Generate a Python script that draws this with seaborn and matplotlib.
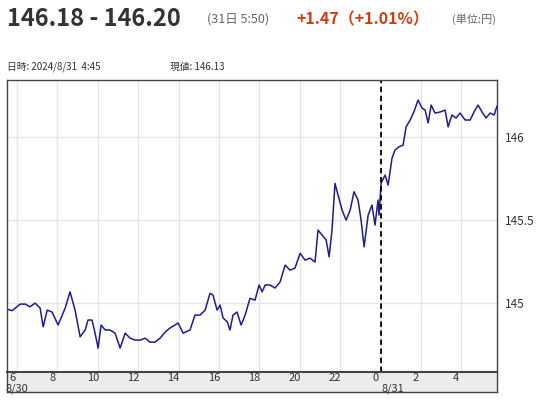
import matplotlib
matplotlib.use("Agg")
import matplotlib.pyplot as plt
import seaborn as sns
import pandas as pd

hours = [5.50,5.75,6.15,6.40,6.64,6.89,7.14,7.29,7.49,7.73,8.03,8.38,8.62,8.87,9.12,9.37,9.51,9.71,9.86,10.01,
10.16,10.36,10.60,10.85,11.10,11.35,11.59,11.84,12.09,12.34,12.58,12.83,13.08,13.33,13.57,13.82,13.97,14.22,14.56,14.81,
15.06,15.31,15.55,15.70,15.90,16.05,16.20,16.40,16.54,16.69,16.89,17.09,17.29,17.53,17.78,17.98,18.13,18.28,18.52,18.77,
19.02,19.27,19.51,19.76,20.01,20.26,20.50,20.75,20.90,21.10,21.30,21.45,21.59,21.74,21.89,22.09,22.29,22.49,22.68,22.88,
23.03,23.18,23.38,23.57,23.72,23.87,23.92,24.02,24.22,24.37,24.56,24.71,24.91,25.11,25.26,25.46,25.65,25.85,26.05,26.20,
26.35,26.50,26.69,26.94,27.19,27.34,27.53,27.73,27.93,28.18,28.43,28.62,28.82,29.02,29.22,29.42,29.62,29.76]
prices = [144.962,144.952,144.992,144.992,144.976,144.998,144.968,144.855,144.956,144.944,144.866,144.968,145.066,144.956,144.795,144.836,144.896,144.896,144.817,144.727,
144.866,144.836,144.836,144.817,144.727,144.817,144.787,144.775,144.775,144.787,144.763,144.763,144.787,144.824,144.848,144.866,144.878,144.817,144.836,144.926,
144.926,144.956,145.057,145.046,144.956,144.986,144.908,144.886,144.836,144.926,144.944,144.866,144.926,145.027,145.016,145.107,145.066,145.107,145.107,145.089,
145.125,145.227,145.197,145.209,145.298,145.257,145.269,145.245,145.438,145.408,145.378,145.277,145.438,145.719,145.649,145.558,145.498,145.558,145.669,145.619,
145.498,145.337,145.528,145.589,145.468,145.619,145.528,145.721,145.769,145.709,145.870,145.920,145.940,145.950,146.060,146.101,146.151,146.221,146.173,146.161,
146.083,146.191,146.143,146.149,146.161,146.060,146.131,146.113,146.143,146.101,146.101,146.149,146.191,146.149,146.113,146.143,146.131,146.185]
xticks = [6,8,10,12,14,16,18,20,22,24,26,28]
xlabels = ["6","8","10","12","14","16","18","20","22","0","2","4"]
yticks = [145, 145.5, 146]
ylabels = ["145", "145.5", "146"]

sns.set_theme(style="white")
plt.rcParams['font.family'] = ['Noto Sans CJK JP', 'DejaVu Sans']

fig = plt.figure(figsize=(5.37, 4.0), dpi=100)
ax = fig.add_axes([7/537, 28/400, 490/537, 292/400])
df = pd.DataFrame({"h": hours, "p": prices})
sns.lineplot(data=df, x="h", y="p", ax=ax, color="#1c1c96", linewidth=1.1)
ax.set_xlim(5.5, 29.76)
ax.set_ylim(144.583, 146.342)
ax.set_xticks(xticks)
ax.set_yticks(yticks)
ax.grid(True, color="#e6e6e6", linewidth=1)
ax.set_xticklabels([])
ax.set_xlabel(""); ax.set_ylabel("")
ax.yaxis.tick_right()
ax.set_yticklabels(ylabels, fontsize=8.5, color="#333333")
ax.tick_params(length=0, pad=6)
ax.axvline(24, color="black", linestyle=(0, (3, 2)), linewidth=1.3)
for s in ax.spines.values():
    s.set_color("#444444"); s.set_linewidth(1)

band = fig.add_axes([7/537, 8/400, 490/537, 20/400], facecolor="#ececec")
band.set_xlim(5.5, 29.76)
band.set_ylim(0, 1)
band.set_yticks([])
band.set_xticks(xticks)
band.set_xticklabels([])
band.tick_params(length=0)
for s in band.spines.values():
    s.set_color("#444444"); s.set_linewidth(1)
band.spines['top'].set_linewidth(1.5)
for t, l in zip(xticks, xlabels):
    band.text(t - 0.25, 0.72, l, ha="center", va="center", fontsize=8, color="#333333")
band.text(6.0, 0.15, "8/30", ha="center", va="center", fontsize=8, color="#333333")
band.text(24.6, 0.15, "8/31", ha="center", va="center", fontsize=8, color="#333333")

fig.text(7/537, 1 - 19/400, "146.18 - 146.20", fontsize=17, fontweight="bold", color="#333333", va="center")
fig.text(207/537, 1 - 19/400, "(31日 5:50)", fontsize=9, color="#666666", va="center")
fig.text(296/537, 1 - 19/400, "+1.47（+1.01%）", fontsize=11.5, fontweight="bold", color="#d23c10", va="center")
fig.text(452/537, 1 - 19/400, "(単位:円)", fontsize=8, color="#666666", va="center")
fig.text(7/537, 1 - 67/400, "日時: 2024/8/31  4:45", fontsize=7, color="#333333", va="center")
fig.text(170/537, 1 - 67/400, "現値: 146.13", fontsize=7, color="#333333", va="center")

fig.savefig("out.png", dpi=100, facecolor="white")
